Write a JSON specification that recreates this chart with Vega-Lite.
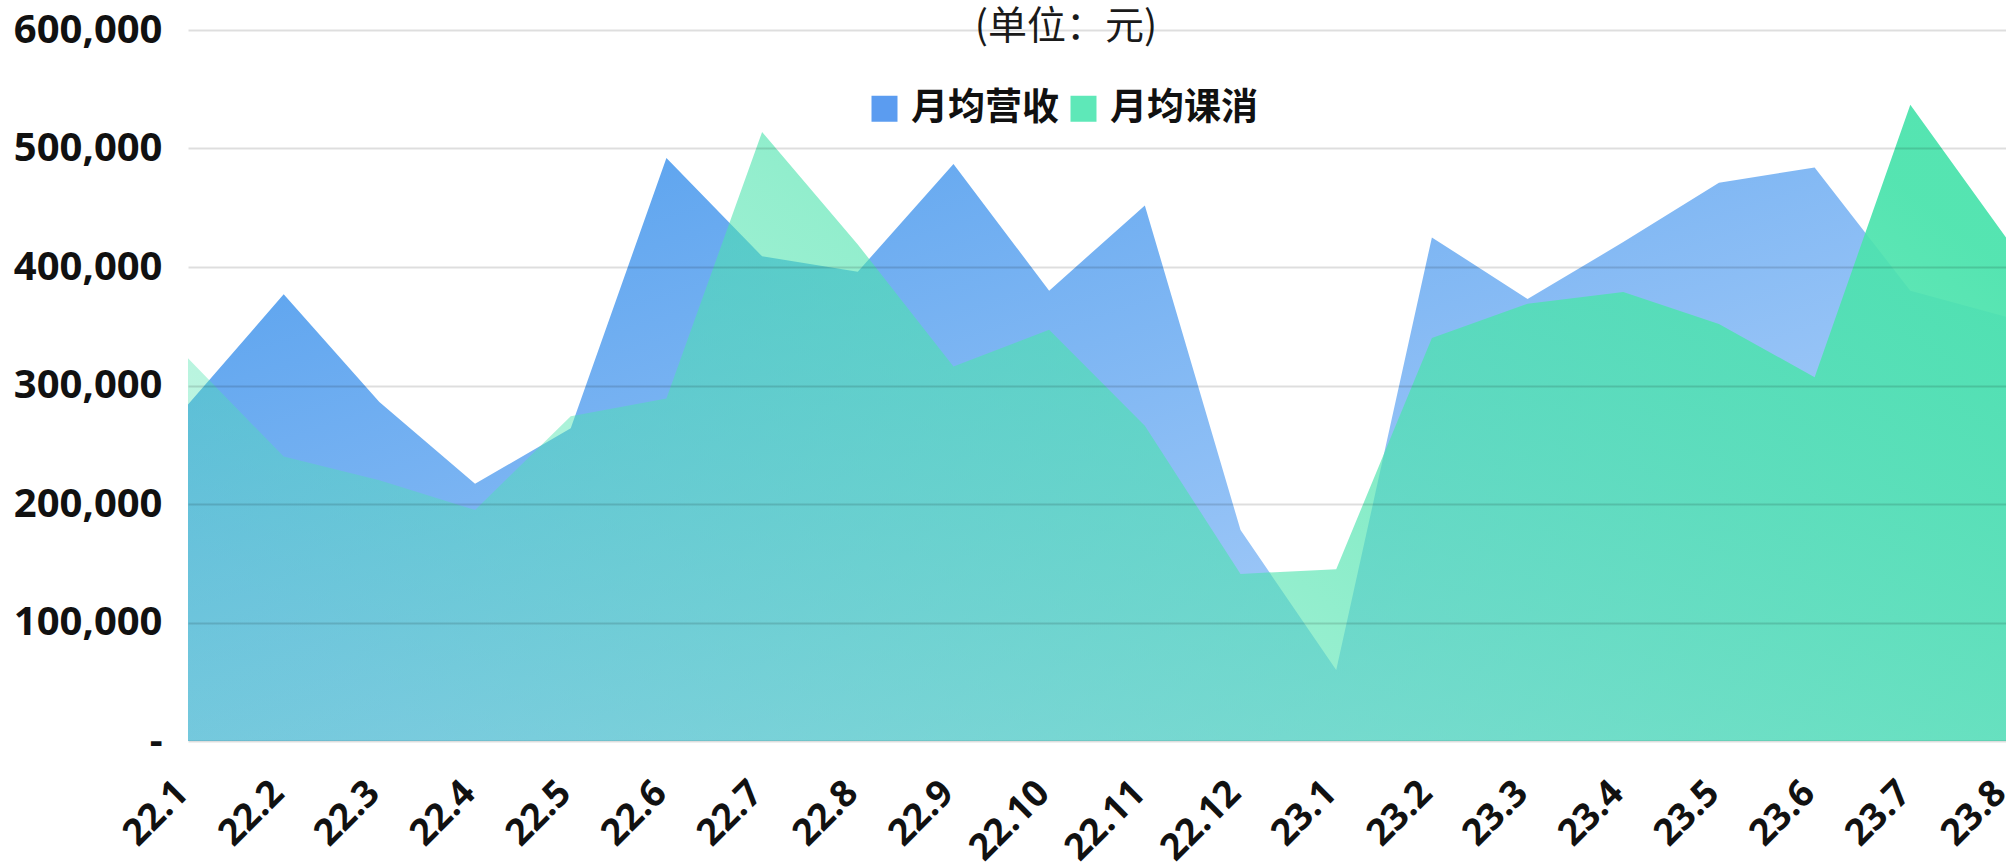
{
  "$schema": "https://vega.github.io/schema/vega-lite/v6.json",
  "width": 1818,
  "height": 711,
  "autosize": {"type": "none"},
  "padding": {"left": 188, "top": 30, "right": 0, "bottom": 126},
  "background": "white",
  "config": {
    "view": {"stroke": null},
    "axis": {"domain": false, "ticks": false, "tickSize": 0, "title": null}
  },
  "title": {
    "text": "(单位：元)",
    "anchor": "middle",
    "frame": "group",
    "dx": -31,
    "dy": 56,
    "offset": 0,
    "baseline": "middle",
    "font": "Noto Sans CJK SC",
    "fontSize": 39,
    "fontWeight": "normal",
    "color": "#1a1a1a"
  },
  "data": {
    "values": [
      {"month": "22.1", "revenue": 284000, "consume": 323000},
      {"month": "22.2", "revenue": 377000, "consume": 240000},
      {"month": "22.3", "revenue": 286000, "consume": 220000},
      {"month": "22.4", "revenue": 217000, "consume": 195000},
      {"month": "22.5", "revenue": 264000, "consume": 274000},
      {"month": "22.6", "revenue": 492000, "consume": 289000},
      {"month": "22.7", "revenue": 409000, "consume": 514000},
      {"month": "22.8", "revenue": 396000, "consume": 419000},
      {"month": "22.9", "revenue": 487000, "consume": 316000},
      {"month": "22.10", "revenue": 380000, "consume": 347000},
      {"month": "22.11", "revenue": 452000, "consume": 266000},
      {"month": "22.12", "revenue": 178000, "consume": 141000},
      {"month": "23.1", "revenue": 60000, "consume": 145000},
      {"month": "23.2", "revenue": 425000, "consume": 340000},
      {"month": "23.3", "revenue": 373000, "consume": 369000},
      {"month": "23.4", "revenue": 421000, "consume": 379000},
      {"month": "23.5", "revenue": 471000, "consume": 352000},
      {"month": "23.6", "revenue": 484000, "consume": 307000},
      {"month": "23.7", "revenue": 380000, "consume": 537000},
      {"month": "23.8", "revenue": 358000, "consume": 425000}
    ]
  },
  "encoding": {
    "x": {
      "field": "month",
      "type": "ordinal",
      "sort": null,
      "scale": {"type": "point", "padding": 0},
      "axis": {
        "labelAngle": -45,
        "labelAlign": "right",
        "labelBaseline": "middle",
        "labelPadding": 46,
        "labelOffset": -6,
        "labelFont": "Open Sans",
        "labelFontSize": 37,
        "labelFontWeight": "bold",
        "labelColor": "#111111",
        "grid": false
      }
    }
  },
  "layer": [
    {
      "mark": {
        "type": "area",
        "interpolate": "linear",
        "color": {
          "gradient": "linear",
          "x1": 0, "y1": 0, "x2": 1, "y2": 1,
          "stops": [
            {"offset": 0, "color": "#529eed"},
            {"offset": 1, "color": "#bed9fc"}
          ]
        }
      },
      "encoding": {
        "y": {
          "field": "revenue",
          "type": "quantitative",
          "scale": {"domain": [0, 600000], "nice": false},
          "axis": {
            "values": [0, 100000, 200000, 300000, 400000, 500000, 600000],
            "labelExpr": "datum.value === 0 ? '-' : format(datum.value, ',')",
            "labelFont": "Open Sans",
            "labelFontSize": 40,
            "labelFontWeight": "bold",
            "labelColor": "#111111",
            "labelPadding": 26,
            "grid": true,
            "gridColor": "#000000",
            "gridOpacity": 0.13,
            "gridWidth": 2,
            "zindex": 1
          }
        }
      }
    },
    {
      "mark": {
        "type": "area",
        "interpolate": "linear",
        "color": {
          "gradient": "linear",
          "x1": 0, "y1": 0.7, "x2": 1, "y2": 0.26,
          "stops": [
            {"offset": 0, "color": "rgba(76,227,173,0.33)"},
            {"offset": 0.48, "color": "rgba(76,227,173,0.6)"},
            {"offset": 1, "color": "rgba(76,227,173,0.95)"}
          ]
        }
      },
      "encoding": {
        "y": {"field": "consume", "type": "quantitative"}
      }
    },
    {
      "data": {"values": [{"series": "月均营收"}, {"series": "月均课消"}]},
      "mark": {"type": "square", "size": 0},
      "encoding": {
        "x": {"value": 0},
        "y": {"value": 0},
        "color": {
          "field": "series",
          "type": "nominal",
          "scale": {"domain": ["月均营收", "月均课消"], "range": ["#5b9cf0", "#5ee8b8"]},
          "legend": {
            "orient": "none",
            "legendX": 678,
            "legendY": 60,
            "direction": "horizontal",
            "title": null,
            "padding": 0,
            "symbolType": "square",
            "symbolSize": 676,
            "symbolStrokeWidth": 0,
            "symbolOpacity": 1,
            "labelFont": "Noto Sans CJK SC",
            "labelFontSize": 37,
            "labelFontWeight": "bold",
            "labelColor": "#111111",
            "labelOffset": 8,
            "columnPadding": 6,
            "encode": {
              "symbols": {
                "update": {
                  "fill": [
                    {
                      "test": "datum.value === '月均营收'",
                      "value": {
                        "gradient": "linear", "x1": 0, "y1": 0, "x2": 1, "y2": 1,
                        "stops": [
                          {"offset": 0, "color": "#5b9cf0"},
                          {"offset": 1, "color": "#c4def9"}
                        ]
                      }
                    },
                    {
                      "value": {
                        "gradient": "linear", "x1": 0, "y1": 0, "x2": 1, "y2": 1,
                        "stops": [
                          {"offset": 0, "color": "#5ee8b8"},
                          {"offset": 1, "color": "#b8f4de"}
                        ]
                      }
                    }
                  ],
                  "opacity": {"value": 1}
                }
              }
            }
          }
        }
      }
    }
  ]
}
